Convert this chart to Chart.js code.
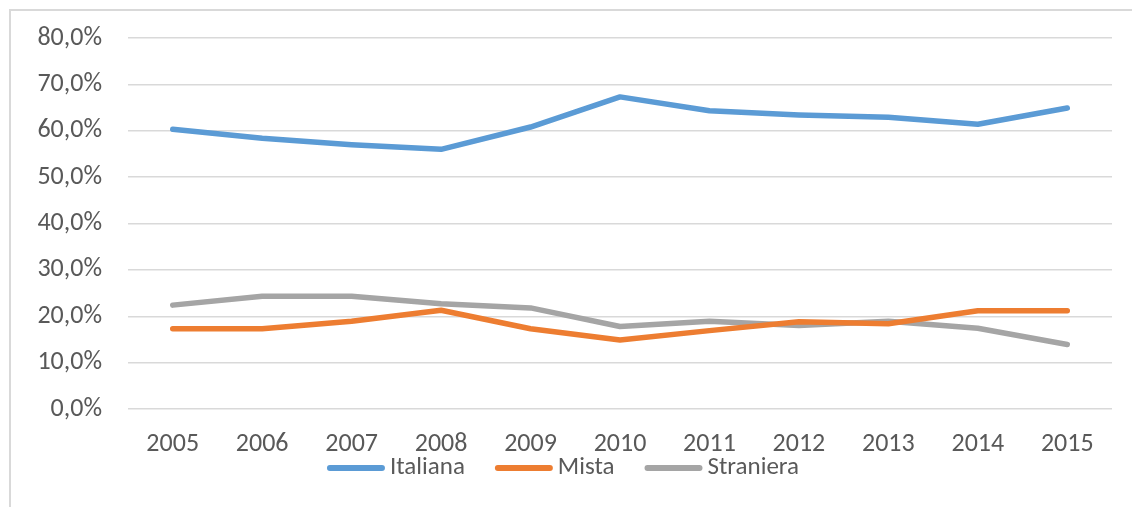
<!DOCTYPE html>
<html>
<head>
<meta charset="utf-8">
<script src="https://cdn.jsdelivr.net/npm/chart.js@4"></script>
<style>
  html, body { margin: 0; padding: 0; background: #fff; overflow: hidden; }
  #frame {
    position: absolute; left: 9px; top: 9px; width: 1200px; height: 600px;
    border-left: 2px solid #d9d9d9; border-top: 2px solid #d9d9d9;
  }
  #wrap { position: absolute; left: 0; top: 0; width: 1132px; height: 507px; }
</style>
</head>
<body>
<div id="frame"></div>
<div id="wrap"><canvas id="chart"></canvas></div>
<script>
/* ---------- dati ---------- */
const years = ['2005', '2006', '2007', '2008', '2009', '2010', '2011', '2012', '2013', '2014', '2015'];
const italiana = [60.3, 58.4, 57.0, 56.0, 60.8, 67.3, 64.3, 63.4, 62.9, 61.4, 64.9];
const mista = [17.3, 17.3, 18.9, 21.3, 17.3, 14.9, 16.9, 18.8, 18.4, 21.2, 21.2];
const straniera = [22.4, 24.3, 24.3, 22.7, 21.8, 17.8, 18.9, 18.0, 18.9, 17.4, 13.9];
const seriesNames = ['Italiana', 'Mista', 'Straniera'];
const seriesColors = ['#5b9bd5', '#ed7d31', '#a5a5a5'];
const yTicks = [0, 10, 20, 30, 40, 50, 60, 70, 80];

const FONT = 'Carlito, Lato, sans-serif';
const TEXT = '#595959';

/* ---------- legenda disegnata a mano (spaziatura stile Excel) ---------- */
const excelLegend = {
  id: 'excelLegend',
  afterDraw(chart) {
    const { ctx } = chart;
    const boxW = 58, gapText = 5, gapItem = 30, y = 468;
    ctx.save();
    ctx.font = '25px ' + FONT;
    const items = chart.data.datasets.map(ds => ({
      label: ds.label, color: ds.borderColor, w: ctx.measureText(ds.label).width
    }));
    const total = items.reduce((s, it) => s + boxW + gapText + it.w, 0) + gapItem * (items.length - 1);
    let x = 563 - total / 2;
    items.forEach(it => {
      ctx.strokeStyle = it.color;
      ctx.lineWidth = 6;
      ctx.lineCap = 'round';
      ctx.beginPath();
      ctx.moveTo(x + 3, y);
      ctx.lineTo(x + boxW - 3, y);
      ctx.stroke();
      x += boxW + gapText;
      ctx.fillStyle = TEXT;
      ctx.textAlign = 'left';
      ctx.textBaseline = 'middle';
      ctx.fillText(it.label, x, y);
      x += it.w + gapItem;
    });
    ctx.restore();
  }
};

function makeLine(i, data) {
  return {
    label: seriesNames[i],
    data: data,
    borderColor: seriesColors[i],
    backgroundColor: seriesColors[i],
    borderWidth: 5.5,
    borderCapStyle: 'round',
    borderJoinStyle: 'round',
    pointRadius: 0,
    tension: 0
  };
}

new Chart(document.getElementById('chart'), {
  type: 'line',
  data: {
    labels: years,
    datasets: [makeLine(0, italiana), makeLine(1, mista), makeLine(2, straniera)]
  },
  options: {
    responsive: true,
    maintainAspectRatio: false,
    animation: false,
    layout: { padding: { left: 10, right: 20, top: 38, bottom: 40 } },
    plugins: {
      tooltip: { enabled: false },
      legend: { display: false }
    },
    scales: {
      x: {
        offset: true,
        grid: { display: false },
        border: { display: false },
        ticks: {
          font: { family: FONT, size: 26 },
          color: TEXT,
          padding: 12,
          maxRotation: 0
        },
        afterFit(scale) { scale.height = 58; }
      },
      y: {
        min: 0,
        max: 80,
        afterBuildTicks(scale) { scale.ticks = yTicks.map(v => ({ value: v })); },
        grid: { color: '#d9d9d9', lineWidth: 1.5, drawTicks: false },
        border: { display: false },
        ticks: {
          font: { family: FONT, size: 26 },
          color: TEXT,
          padding: 26,
          callback: v => v.toFixed(1).replace('.', ',') + '%'
        },
        afterFit(scale) {
          scale.width = 118;
          scale.paddingTop = 0;
          scale.paddingBottom = 0;
        }
      }
    }
  },
  plugins: [excelLegend]
});
</script>
</body>
</html>
